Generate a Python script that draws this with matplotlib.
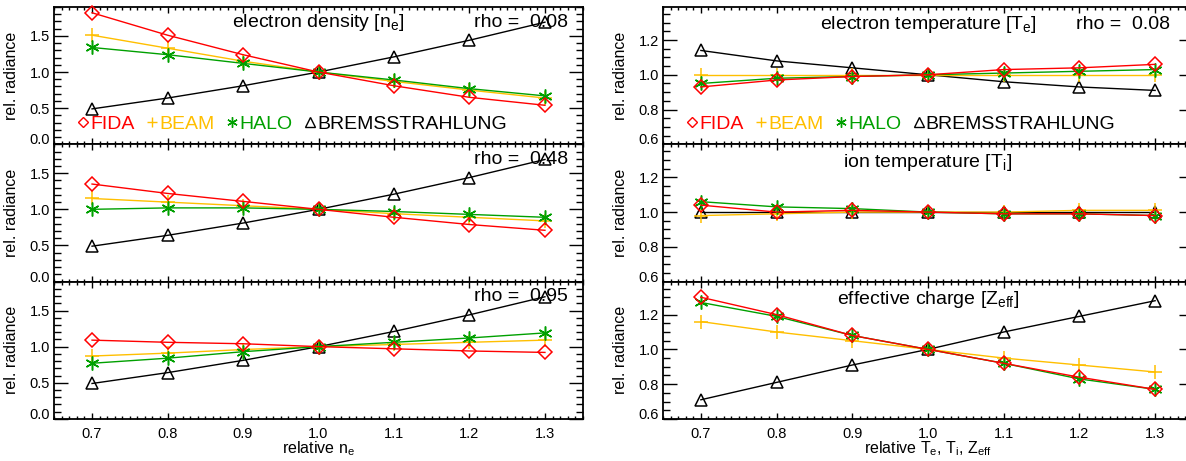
import matplotlib
matplotlib.use("Agg")
import matplotlib.pyplot as plt
from matplotlib.ticker import MultipleLocator, FormatStrFormatter
from matplotlib.lines import Line2D

plt.rcParams['font.family'] = ['Liberation Sans', 'DejaVu Sans']
plt.rcParams['mathtext.fontset'] = 'custom'
plt.rcParams['mathtext.rm'] = 'Liberation Sans'
plt.rcParams['mathtext.default'] = 'regular'

# relative variation of the plasma parameter
x_rel = [0.7, 0.8, 0.9, 1.0, 1.1, 1.2, 1.3]

# electron density scan, rho = 0.08 / 0.48 / 0.95
ne008_fida = [1.82, 1.51, 1.24, 1.00, 0.81, 0.65, 0.54]
ne008_beam = [1.51, 1.33, 1.15, 1.00, 0.87, 0.75, 0.64]
ne008_halo = [1.34, 1.24, 1.12, 1.00, 0.89, 0.77, 0.67]
ne008_brems = [0.49, 0.64, 0.81, 1.00, 1.21, 1.44, 1.69]

ne048_fida = [1.35, 1.22, 1.11, 1.00, 0.89, 0.79, 0.71]
ne048_beam = [1.15, 1.10, 1.05, 1.00, 0.94, 0.89, 0.84]
ne048_halo = [1.00, 1.02, 1.02, 1.00, 0.97, 0.93, 0.89]
ne048_brems = [0.49, 0.64, 0.81, 1.00, 1.21, 1.44, 1.69]

ne095_fida = [1.09, 1.06, 1.04, 1.00, 0.97, 0.94, 0.92]
ne095_beam = [0.87, 0.91, 0.96, 1.00, 1.03, 1.06, 1.09]
ne095_halo = [0.77, 0.84, 0.93, 1.00, 1.06, 1.12, 1.19]
ne095_brems = [0.49, 0.64, 0.81, 1.00, 1.21, 1.44, 1.69]

# electron temperature, ion temperature, effective charge (rho = 0.08)
te_fida = [0.93, 0.97, 0.99, 1.00, 1.03, 1.04, 1.06]
te_beam = [1.00, 1.00, 1.00, 1.00, 1.00, 1.00, 1.00]
te_halo = [0.95, 0.98, 0.99, 1.00, 1.01, 1.02, 1.03]
te_brems = [1.14, 1.08, 1.04, 1.00, 0.96, 0.93, 0.91]

ti_fida = [1.04, 1.00, 1.01, 1.00, 0.99, 0.99, 0.98]
ti_beam = [0.98, 0.99, 1.00, 1.00, 1.00, 1.01, 1.01]
ti_halo = [1.06, 1.03, 1.02, 1.00, 0.99, 0.99, 0.98]
ti_brems = [1.00, 1.00, 1.00, 1.00, 1.00, 1.00, 1.00]

zeff_fida = [1.30, 1.20, 1.08, 1.00, 0.92, 0.84, 0.77]
zeff_beam = [1.16, 1.10, 1.05, 1.00, 0.95, 0.91, 0.87]
zeff_halo = [1.27, 1.19, 1.08, 1.00, 0.92, 0.83, 0.77]
zeff_brems = [0.71, 0.81, 0.91, 1.00, 1.10, 1.19, 1.28]

names = ['FIDA', 'BEAM', 'HALO', 'BREMSSTRAHLUNG']
gold = '#FFBF00'
green = '#00A000'
colors = ['red', gold, green, 'black']
markers = ['D', '+', (6, 2, 0), '^']
msizes = [7, 10, 10, 9]

W, H = 1186., 461.
fig = plt.figure(figsize=(W / 100, H / 100), dpi=100)

panel_h = 137.3
def add_panel(xleft, width, row):
    top = 7 + row * panel_h
    return fig.add_axes([xleft / W, 1 - (top + panel_h) / H, width / W, panel_h / H])


def plot_panel(ax, fida, beam, halo, brems):
    series = [fida, beam, halo, brems]
    zo = [5, 3, 4, 2]
    for y, c, m, ms, z in zip(series, colors, markers, msizes, zo):
        ax.plot(x_rel, y, color=c, lw=1, marker=m, ms=ms, mfc='none',
                mew=1.1, zorder=z, clip_on=False)


def style(ax, ylim, yticks, yminor, bottom):
    ax.set_xlim(0.65, 1.35)
    ax.set_ylim(*ylim)
    ax.xaxis.set_major_locator(MultipleLocator(0.1))
    ax.xaxis.set_minor_locator(MultipleLocator(0.01))
    ax.set_yticks(yticks)
    ax.yaxis.set_minor_locator(MultipleLocator(yminor))
    ax.yaxis.set_major_formatter(FormatStrFormatter('%.1f'))
    ax.xaxis.set_major_formatter(FormatStrFormatter('%.1f'))
    ax.tick_params(which='both', direction='in', top=True, right=True,
                   labelsize=10.5, width=1)
    ax.tick_params(axis='x', which='major', length=4, pad=6)
    ax.tick_params(axis='x', which='minor', length=2)
    ax.tick_params(axis='y', which='major', length=10, pad=3)
    ax.tick_params(axis='y', which='minor', length=5)
    if not bottom:
        ax.tick_params(axis='x', labelbottom=False)
    for s in ax.spines.values():
        s.set_linewidth(1.3)
    ax.set_ylabel('rel. radiance', fontsize=11.5)
    ax.yaxis.set_label_coords(-0.066, 0.5)
    ax.get_yticklabels()[0].set_va('baseline')


def add_legend(ax, anchor_x):
    handles = [Line2D([], [], color=c, marker=m, ms=ms * 0.75, mfc='none', ls='none', mew=1)
               for c, m, ms in zip(colors, markers, msizes)]
    ax.legend(handles, names, loc='center left', bbox_to_anchor=(anchor_x, 0.148),
              ncol=4, frameon=False, fontsize=14, handlelength=0.5,
              handletextpad=0.12, columnspacing=0.65, labelcolor=colors,
              borderpad=0, borderaxespad=0)


left_sets = [
    (ne008_fida, ne008_beam, ne008_halo, ne008_brems, 'rho =  0.08'),
    (ne048_fida, ne048_beam, ne048_halo, ne048_brems, 'rho =  0.48'),
    (ne095_fida, ne095_beam, ne095_halo, ne095_brems, 'rho =  0.95'),
]
for row, (f, b, h, br, rho) in enumerate(left_sets):
    ax = add_panel(54.3, 528.4, row)
    plot_panel(ax, f, b, h, br)
    style(ax, (0.0, 1.9), [0.0, 0.5, 1.0, 1.5], 0.1, row == 2)
    ax.text(0.972, 0.89, rho, transform=ax.transAxes, ha='right', va='center',
            fontsize=14, zorder=1)
    if row == 0:
        ax.text(0.5, 0.89, 'electron density [n$_e$]', transform=ax.transAxes,
                ha='center', va='center', fontsize=14)
        add_legend(ax, 0.045)
    if row == 2:
        ax.set_xlabel('relative n$_e$', fontsize=11.5)
        ax.xaxis.set_label_coords(0.5, -0.15)

right_sets = [
    (te_fida, te_beam, te_halo, te_brems, 'electron temperature [T$_e$]'),
    (ti_fida, ti_beam, ti_halo, ti_brems, 'ion temperature [T$_i$]'),
    (zeff_fida, zeff_beam, zeff_halo, zeff_brems, 'effective charge [Z$_{eff}$]'),
]
for row, (f, b, h, br, title) in enumerate(right_sets):
    ax = add_panel(663, 530, row)
    plot_panel(ax, f, b, h, br)
    style(ax, (0.6, 1.39), [0.6, 0.8, 1.0, 1.2], 0.05, row == 2)
    ax.text(0.5, 0.87, title, transform=ax.transAxes, ha='center', va='center',
            fontsize=14)
    if row == 0:
        ax.text(0.957, 0.87, 'rho =  0.08', transform=ax.transAxes, ha='right',
                va='center', fontsize=14)
        add_legend(ax, 0.045)
    if row == 2:
        ax.set_xlabel('relative T$_e$, T$_i$, Z$_{eff}$', fontsize=11.5)
        ax.xaxis.set_label_coords(0.5, -0.15)

fig.savefig('out.png', dpi=100)
